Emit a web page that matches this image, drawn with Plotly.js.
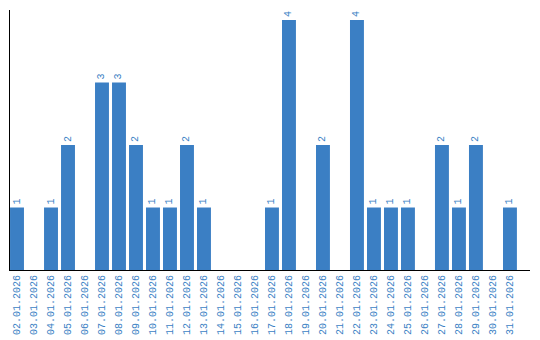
<!DOCTYPE html>
<html>
<head>
<meta charset="utf-8">
<script src="https://cdn.plot.ly/plotly-3.0.1.min.js"></script>
<style>html,body{margin:0;padding:0;background:#fff;}#chart{width:540px;height:340px;}</style>
</head>
<body>
<div id="chart"></div>
<script>
const dates = ["02.01.2026","03.01.2026","04.01.2026","05.01.2026","06.01.2026","07.01.2026","08.01.2026","09.01.2026","10.01.2026","11.01.2026","12.01.2026","13.01.2026","14.01.2026","15.01.2026","16.01.2026","17.01.2026","18.01.2026","19.01.2026","20.01.2026","21.01.2026","22.01.2026","23.01.2026","24.01.2026","25.01.2026","26.01.2026","27.01.2026","28.01.2026","29.01.2026","30.01.2026","31.01.2026"];
const counts = [1,0,1,2,0,3,3,2,1,1,2,1,0,0,0,1,4,0,2,0,4,1,1,1,0,2,1,2,0,1];
const labels = counts.map(v => v > 0 ? String(v) : "");
const blue = "#3b7fc4";
Plotly.newPlot("chart", [{
  type: "bar",
  x: dates,
  y: counts,
  text: labels,
  textposition: "outside",
  textangle: -90,
  cliponaxis: false,
  textfont: {family: "Liberation Mono", size: 10, color: blue},
  marker: {color: blue},
  width: 0.82,
  hoverinfo: "none"
}], {
  width: 540, height: 340,
  margin: {l: 10, r: 10, t: 10, b: 70},
  paper_bgcolor: "#fff", plot_bgcolor: "#fff",
  showlegend: false,
  xaxis: {
    type: "category",
    range: [-0.412, 30.18],
    tickangle: -90,
    tickfont: {family: "Liberation Mono", size: 10, color: blue},
    showline: true, linecolor: "#000", linewidth: 1,
    ticks: "", showgrid: false, zeroline: false, fixedrange: true
  },
  yaxis: {
    range: [0, 4.16],
    showticklabels: false,
    showline: true, linecolor: "#000", linewidth: 1,
    ticks: "", showgrid: false, zeroline: false, fixedrange: true
  }
}, {displayModeBar: false, staticPlot: true});
</script>
</body>
</html>
